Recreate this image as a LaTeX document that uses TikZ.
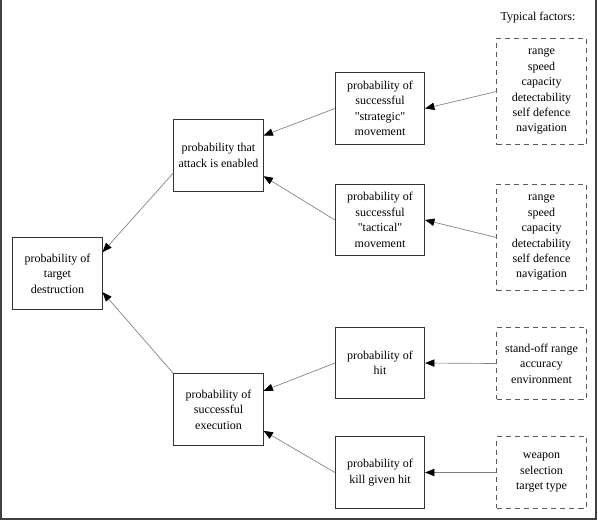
\documentclass[tikz,border=0pt]{standalone}
\usepackage{fontspec}
\setmainfont{Liberation Serif}
\usepackage{tikz}
\usetikzlibrary{arrows.meta}

\begin{document}
\begin{tikzpicture}[x=0.75pt, y=-0.75pt,
        every node/.style={font=\fontsize{9}{11.6}\selectfont, align=center, inner sep=0pt},
        prob/.style={draw=black!80, line width=0.6pt, minimum width=67pt, minimum height=53.5pt},
        factors/.style={draw=black!65, line width=0.6pt, dash pattern=on 3.8pt off 3pt, minimum width=67pt},
        link/.style={draw=black!50, line width=0.5pt, -{Triangle[length=7pt, width=5.5pt, color=black]}}]
            \useasboundingbox (0,0) rectangle (598,521);
            \draw[black!75, line width=1.5pt] (1,0) -- (1,519) -- (596,519) -- (596,0);
            \node[prob] (destr) at (57.5,273.5) {probability of\\target\\destruction};
            \node[prob] (enabled) at (218.5,155.5) {probability that\\attack is enabled};
            \node[prob] (execut) at (218.5,409.5) {probability of\\successful\\execution};
            \node[prob] (strat) at (380,108.5) {probability of\\successful\\\textquotedbl strategic\textquotedbl\\movement};
            \node[prob] (tact) at (380,220) {probability of\\successful\\\textquotedbl tactical\textquotedbl\\movement};
            \node[prob] (hit) at (380,363) {probability of\\hit};
            \node[prob] (kill) at (380,472.5) {probability of\\kill given hit};
            \node (typical) at (538,18) {Typical factors:};
            \node[factors, minimum height=80pt] (fstrat) at (541.5,91.5) {range\\speed\\capacity\\detectability\\self defence\\navigation};
            \node[factors, minimum height=80pt] (ftact) at (541.5,237.5) {range\\speed\\capacity\\detectability\\self defence\\navigation};
            \node[factors, minimum height=53.5pt] (fhit) at (541.5,363.5) {stand-off range\\accuracy\\environment};
            \node[factors, minimum height=53.5pt] (fkill) at (541.5,472.5) {weapon\\selection\\target type};
            \draw[link] ([yshift=-13pt]enabled.west) -- ([yshift=16pt]destr.east);
            \draw[link] (execut.north west) -- ([yshift=-14pt]destr.east);
            \draw[link] (strat.west) -- ([yshift=15pt]enabled.east);
            \draw[link] (tact.west) -- ([yshift=-15.5pt]enabled.east);
            \draw[link] (hit.west) -- ([yshift=14pt]execut.east);
            \draw[link] (kill.west) -- ([yshift=-16pt]execut.east);
            \draw[link] (fstrat.west) -- (strat.east);
            \draw[link] (ftact.west) -- (tact.east);
            \draw[link] (fhit.west) -- (hit.east);
            \draw[link] (fkill.west) -- (kill.east);
        \end{tikzpicture}
\end{document}
